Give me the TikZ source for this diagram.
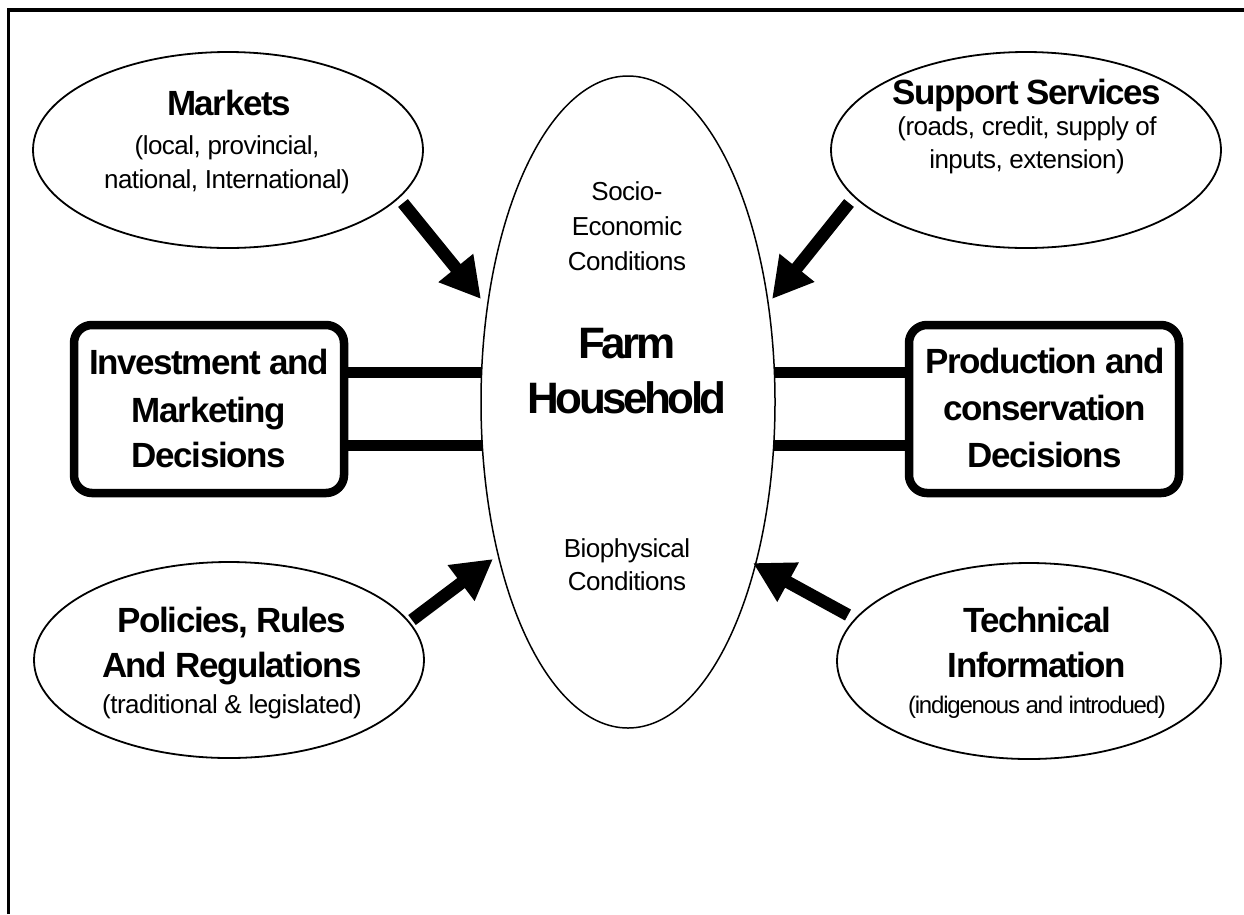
\documentclass[tikz,border=0pt]{standalone}
\usepackage{fontspec}
\setmainfont{Liberation Sans}
\newfontfamily\ttlfam{Liberation Sans}[LetterSpace=-4]
\newfontfamily\bigfam{Liberation Sans}[LetterSpace=-8]
\newfontfamily\subfam{Liberation Sans}[LetterSpace=-2]
\newfontfamily\tinyfam{Liberation Sans}[LetterSpace=-5]
\usetikzlibrary{shapes.geometric,arrows.meta}
\begin{document}
\begin{tikzpicture}[x=1pt,y=-1pt,
  oval/.style={ellipse, draw, line width=1.8pt, minimum width=390pt, minimum height=196pt, inner sep=0pt},
  decbox/.style={draw, line width=8.5pt, rounded corners=18pt, minimum width=270pt, minimum height=168pt, inner sep=0pt},
  ttl/.style={anchor=base, inner sep=0pt, font={\ttlfam\bfseries\fontsize{35pt}{35pt}\selectfont}},
  big/.style={anchor=base, inner sep=0pt, font={\bigfam\bfseries\fontsize{44pt}{44pt}\selectfont}},
  sub/.style={anchor=base, inner sep=0pt, font={\subfam\fontsize{26pt}{26pt}\selectfont}},
  tiny/.style={anchor=base, inner sep=0pt, font={\tinyfam\fontsize{24pt}{24pt}\selectfont}},
  arr/.style={line width=12.5pt, -{Triangle[width=42pt,length=40pt]}},
  bar/.style={line width=11pt},
  frame/.style={line width=3.3pt}]
\useasboundingbox (0,0) rectangle (1244,914);
\fill[white] (0,0) rectangle (1244,914);
% frame (top and left only)
\coordinate (fbl) at (8.5,914);
\coordinate (ftl) at (8.5,10);
\coordinate (ftr) at (1244,10);
\draw[frame] (fbl) -- (ftl) -- (ftr);

% central ellipse
\node[ellipse, draw, line width=1.5pt, minimum width=294pt, minimum height=652pt, inner sep=0pt] (farm) at (628,402) {};
% surrounding ellipses
\node[oval] (mkt) at (228,150) {};
\node[oval] (sup) at (1026,150) {};
\node[oval] (pol) at (229,660) {};
\node[oval, minimum width=384pt] (tec) at (1029,661) {};
% decision boxes
\node[decbox] (inv) at (209,409) {};
\node[decbox] (prd) at (1044,409) {};

% texts
\node[ttl] (mkt1) at (229,115) {Markets};
\node[sub] (mkt2) at (227,154) {(local, provincial,};
\node[sub] (mkt3) at (227,188) {national, International)};

\node[ttl] (sup1) at (1027,104) {Support Services};
\node[sub] (sup2) at (1027,135) {(roads, credit, supply of};
\node[sub] (sup3) at (1027,168) {inputs, extension)};

\node[ttl] (inv1) at (209,374) {Investment and};
\node[ttl] (inv2) at (209,422) {Marketing};
\node[ttl] (inv3) at (209,467) {Decisions};

\node[ttl] (prd1) at (1045,373) {Production and};
\node[ttl] (prd2) at (1045,420) {conservation};
\node[ttl] (prd3) at (1045,467) {Decisions};

\node[big] (farm1) at (627,358) {Farm};
\node[big] (farm2) at (627,413) {Household};

\node[sub] (soc1) at (627,200) {Socio-};
\node[sub] (soc2) at (627,235) {Economic};
\node[sub] (soc3) at (627,270) {Conditions};

\node[sub] (bio1) at (627,557) {Biophysical};
\node[sub] (bio2) at (627,590) {Conditions};

\node[ttl] (pol1) at (232,632) {Policies, Rules};
\node[ttl] (pol2) at (232,677) {And Regulations};
\node[sub] (pol3) at (232,713) {(traditional \& legislated)};

\node[ttl] (tec1) at (1037,632) {Technical};
\node[ttl] (tec2) at (1037,677) {Information};
\node[tiny] (tec3) at (1037,713) {(indigenous and introdued)};

% arrows
\coordinate (a1s) at (403,203);  \coordinate (a1e) at (481,299);
\coordinate (a2s) at (849,203);  \coordinate (a2e) at (772,299);
\coordinate (a3s) at (412,620);  \coordinate (a3e) at (493,559);
\coordinate (a4s) at (848,615);  \coordinate (a4e) at (753,563);
\draw[arr] (a1s) -- (a1e);
\draw[arr] (a2s) -- (a2e);
\draw[arr] (a3s) -- (a3e);
\draw[arr] (a4s) -- (a4e);

% bars
\coordinate (bl1) at (482,372); \coordinate (bl2) at (482.5,445);
\coordinate (br1) at (774,372); \coordinate (br2) at (773.5,445);
\draw[bar] (inv.east |- bl1) -- (bl1);
\draw[bar] (inv.east |- bl2) -- (bl2);
\draw[bar] (prd.west |- br1) -- (br1);
\draw[bar] (prd.west |- br2) -- (br2);
\end{tikzpicture}
\end{document}
